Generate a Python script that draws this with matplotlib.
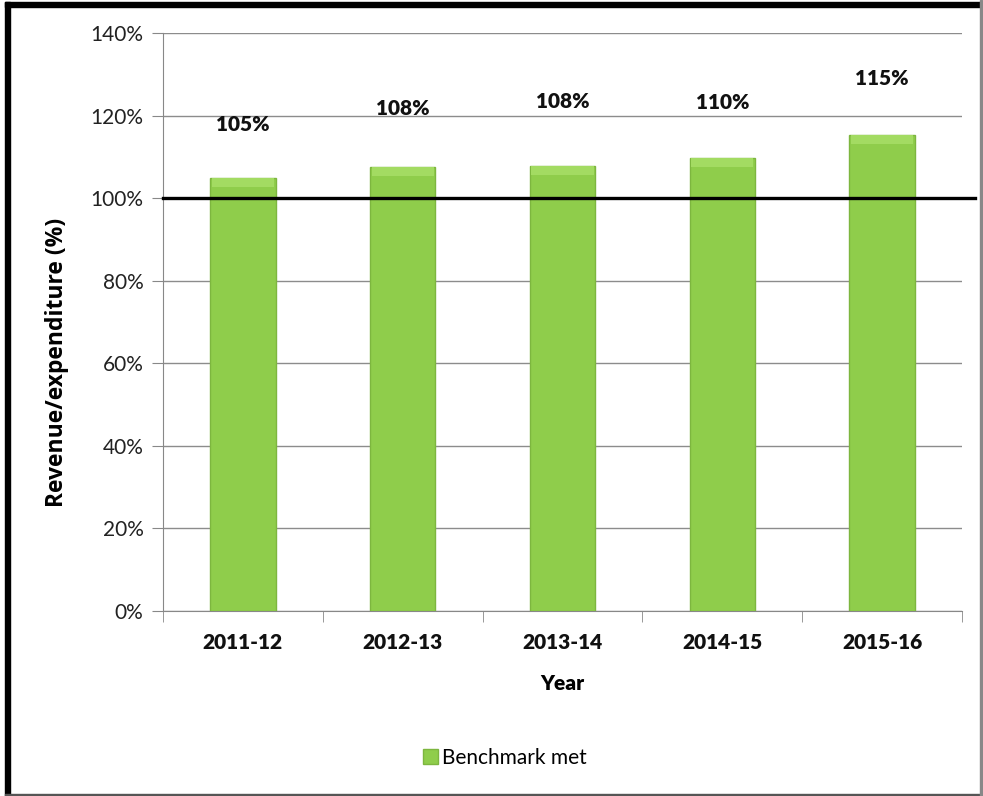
import matplotlib.pyplot as plt
from matplotlib.patches import Rectangle

years = ['2011-12', '2012-13', '2013-14', '2014-15', '2015-16']
ratio = [105.0, 107.5, 107.7, 109.8, 115.2]
labels = ['105%', '108%', '108%', '110%', '115%']
benchmark = 100

plt.rcParams['font.family'] = ['Lato', 'DejaVu Sans']

fig = plt.figure(figsize=(9.83, 7.96), dpi=100)
ax = fig.add_axes([163/983, 185/796, 799/983, 578/796])

x = range(len(years))
bars = ax.bar(x, ratio, width=0.41, color='#8fcd4b', edgecolor='#7db63f',
              linewidth=1, zorder=3, label='Benchmark met')
# lighter top strip for the bevel look
ax.bar(x, [2.2]*len(x), bottom=[r - 2.2 for r in ratio], width=0.39,
       color='#a3db62', linewidth=0, zorder=4)

# label offsets above bar tops (pixels)
offs = [53, 59, 65, 55, 57]
for i, (v, lab) in enumerate(zip(ratio, labels)):
    ax.annotate(lab, (i, v), xytext=(0, offs[i] * 0.72), textcoords='offset points',
                ha='center', va='center', fontsize=15, fontweight='heavy', color='#111111')

ax.axhline(benchmark, xmin=0, xmax=(975-163)/799, color='black', linewidth=2.4,
           zorder=5, clip_on=False)

ax.set_xlim(-0.5, len(years) - 0.5)
ax.set_ylim(0, 140)
ax.set_yticks(range(0, 141, 20))
ax.set_yticklabels([f'{t}%' for t in range(0, 141, 20)], fontsize=15, color='#222222')
ax.set_xticks(list(x))
ax.set_xticklabels(years, fontsize=15, fontweight='heavy', color='#111111')
ax.set_xticks([i - 0.5 for i in range(len(years) + 1)], minor=True)
ax.tick_params(axis='x', which='major', length=0, pad=16)
ax.tick_params(axis='x', which='minor', length=8, color='#888888', direction='out')
ax.tick_params(axis='y', length=8, color='#888888', pad=6)

ax.grid(axis='y', color='#8c8c8c', linewidth=1, zorder=0)
for s in ['top', 'right']:
    ax.spines[s].set_visible(False)
for s in ['left', 'bottom']:
    ax.spines[s].set_color('#888888')

ax.set_xlabel('Year', fontsize=15, fontweight='heavy', labelpad=16)
fig.text(57/983, 1 - 362/796, 'Revenue/expenditure (%)', rotation=90,
         ha='center', va='center', fontsize=16.5, fontweight='bold',
         family=['Open Sans', 'DejaVu Sans'])

fig.legend(handles=[bars], loc='center', bbox_to_anchor=(505/983, 1 - 758/796),
           frameon=False, fontsize=15, handlelength=0.7, handleheight=0.7,
           handletextpad=0.2)

# frame around the picture
fig.patches.append(Rectangle((5/983, 0), 5/983, 1 - 2/796, transform=fig.transFigure,
                             color='black', zorder=10))
fig.patches.append(Rectangle((5/983, 1 - 7/796), 978/983, 5/796, transform=fig.transFigure,
                             color='black', zorder=10))
fig.patches.append(Rectangle((5/983, 1/796), 976/983, 1/796, transform=fig.transFigure,
                             color='#555555', zorder=10))
fig.patches.append(Rectangle((980/983, 0), 1.5/983, 1, transform=fig.transFigure,
                             color='#888888', zorder=10))

fig.savefig('out.png', dpi=100)
